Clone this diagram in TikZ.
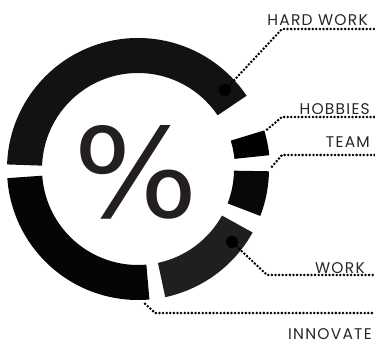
\documentclass[tikz,border=0pt]{standalone}
\usepackage{fontspec}
\usepackage{xcolor}
\usepackage{tikz}
\newfontfamily\labelfont[LetterSpace=8]{Poppins}
\newfontfamily\pctfont{DejaVu Sans}
\definecolor{ink}{HTML}{231F20}

\begin{document}
\begin{tikzpicture}[x=1pt, y=1pt,
    seg/.style={fill=black},
    spot/.style={circle, fill=black, inner sep=0pt, minimum size=12pt},
    lead/.style={draw=black, line width=2.8pt, line cap=round, dash pattern=on 0pt off 3.6pt},
    lbl/.style={anchor=base east, inner sep=0pt, font=\labelfont\fontsize{15.5}{16}\selectfont, text=black!85}]
    \useasboundingbox (0,0) rectangle (375,345);

    % ring
    \begin{scope}[shift={(138,176)}]
        \fill[seg, black!93] (34:96) arc [start angle=34, end angle=178, radius=96] -- (178:131) arc [start angle=178, end angle=34, radius=131] -- cycle;
        \fill[seg] (6:97) arc [start angle=6, end angle=17, radius=97] -- (17:132) arc [start angle=17, end angle=6, radius=132] -- cycle;
        \fill[seg, black!97] (-21:96) arc [start angle=-21, end angle=-1, radius=96] -- (-1:131) arc [start angle=-1, end angle=-21, radius=131] -- cycle;
        \fill[seg, black!88] (-78:96) arc [start angle=-78, end angle=-29, radius=96] -- (-29:131) arc [start angle=-29, end angle=-78, radius=131] -- cycle;
        \fill[seg, black!98] (184:96) arc [start angle=184, end angle=275, radius=96] -- (275:131) arc [start angle=275, end angle=184, radius=131] -- cycle;

        \coordinate (hbstart) at (17:135);
        \coordinate (tmstart) at (1:134);
        \coordinate (instart) at (-87:135);
    \end{scope}

    \node (pct) at (136,173) [inner sep=0pt, text=ink, xscale=1.06, transform shape, font=\pctfont\fontsize{124}{126}\selectfont] {\%};

    \node (hwdot) at (225,255) [spot] {};
    \node (wkdot) at (232,103) [spot] {};

    \coordinate (hwbend) at (282,316);
    \coordinate (hwend) at (375,316);
    \coordinate (hbbend) at (282,228);
    \coordinate (hbend) at (375,228);
    \coordinate (tmbend) at (282,190);
    \coordinate (tmend) at (375,190);
    \coordinate (wkbend) at (267,70);
    \coordinate (wkend) at (375,70);
    \coordinate (inbend) at (155,32);
    \coordinate (inend) at (375,32);

    \draw[lead] (hwdot) -- (hwbend) -- (hwend);
    \draw[lead] (hbstart) -- (hbbend) -- (hbend);
    \draw[lead] (tmstart) -- (tmbend) -- (tmend);
    \draw[lead] (wkdot) -- (wkbend) -- (wkend);
    \draw[lead] (instart) -- (inbend) -- (inend);

    \node (hw) at (368,319) [lbl] {HARD WORK};
    \node (hb) at (370,230) [lbl] {HOBBIES};
    \node (tm) at (370,197) [lbl] {TEAM};
    \node (wk) at (365,71) [lbl] {WORK};
    \node (in) at (372,5) [lbl] {INNOVATE};
\end{tikzpicture}
\end{document}
